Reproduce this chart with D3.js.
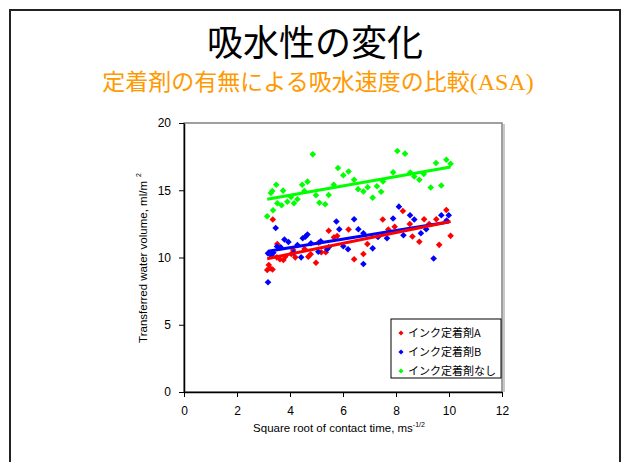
<!DOCTYPE html>
<html>
<head>
<meta charset="utf-8">
<script src="https://cdn.jsdelivr.net/npm/d3@7"></script>
<style>
  html, body { margin: 0; padding: 0; background: #fff; }
  svg { display: block; }
</style>
</head>
<body>
<svg id="chart" width="624" height="462"></svg>
<script>
// Ink fixer A (red)
const inkA_x = [3.35, 3.14, 3.25, 3.34, 3.20, 3.50, 3.52, 3.62, 3.75, 3.82, 4.05, 4.12, 4.20, 4.55, 4.69, 4.78, 4.98, 5.08, 5.18, 5.35, 5.46, 5.66, 5.78, 6.21, 6.42, 6.77, 6.92, 7.50, 7.71, 7.95, 8.26, 8.52, 8.62, 8.88, 9.06, 9.25, 9.52, 9.63, 9.90, 10.06];
const inkA_y = [12.83, 9.07, 9.20, 9.11, 9.44, 10.01, 11.00, 9.87, 9.81, 10.06, 10.26, 10.56, 10.01, 10.63, 10.06, 10.24, 9.61, 11.10, 10.39, 10.39, 11.99, 11.50, 11.60, 12.08, 9.87, 10.26, 11.00, 12.83, 12.08, 12.29, 13.46, 12.49, 11.56, 11.17, 12.84, 12.49, 12.84, 10.94, 13.53, 11.61];

// Ink fixer B (blue)
const inkB_x = [3.46, 3.17, 3.17, 3.31, 3.37, 3.51, 3.65, 3.79, 3.94, 4.14, 4.28, 4.42, 4.48, 4.58, 4.66, 4.79, 5.07, 5.16, 5.40, 5.46, 5.75, 5.86, 6.01, 6.19, 6.42, 6.58, 6.77, 6.77, 7.12, 7.32, 7.66, 7.89, 8.11, 8.28, 8.53, 8.69, 8.94, 9.14, 9.42, 9.71, 9.91, 9.99];
const inkB_y = [12.19, 8.16, 10.31, 10.11, 10.36, 10.82, 10.76, 11.34, 11.15, 10.36, 10.93, 10.01, 11.43, 11.55, 11.71, 11.06, 10.43, 11.20, 10.61, 10.76, 12.68, 12.10, 10.84, 10.61, 12.84, 12.10, 11.80, 9.52, 10.68, 11.52, 11.43, 12.90, 13.78, 11.65, 13.14, 12.83, 11.80, 12.10, 9.93, 13.14, 12.75, 13.14];

// No ink fixer (green)
const none_x = [3.14, 3.36, 3.28, 3.33, 3.48, 3.52, 3.68, 3.74, 3.90, 4.04, 4.15, 4.28, 4.46, 4.54, 4.66, 4.86, 4.98, 5.11, 5.33, 5.46, 5.65, 5.81, 6.01, 6.21, 6.42, 6.57, 6.77, 6.93, 7.12, 7.28, 7.44, 7.51, 7.89, 8.05, 8.34, 8.54, 8.69, 8.88, 9.05, 9.31, 9.51, 9.71, 9.90, 10.06];
const none_y = [13.06, 13.51, 14.80, 14.94, 15.41, 14.03, 13.88, 14.97, 14.15, 14.50, 14.03, 14.33, 15.41, 14.94, 15.64, 17.67, 14.63, 14.07, 13.96, 14.65, 15.41, 16.65, 16.11, 16.39, 15.78, 15.08, 14.91, 15.22, 14.45, 15.30, 14.89, 15.65, 16.33, 17.92, 17.72, 16.32, 16.02, 15.78, 16.21, 15.20, 17.03, 15.35, 17.27, 16.97];

const seriesNames = ["インク定着剤A", "インク定着剤B", "インク定着剤なし"];
const seriesColors = ["#ff0000", "#0000ff", "#00ff00"];

const xTicks = [0, 2, 4, 6, 8, 10, 12];
const yTicks = [0, 5, 10, 15, 20];

const titleText = "吸水性の変化";
const subtitleText = "定着剤の有無による吸水速度の比較";
const subtitleTail = "(ASA)";
const xLabel = "Square root of contact time, ms";
const xLabelSup = "-1/2";
const yLabel = "Transferred water volume, ml/m";
const yLabelSup = "2";

const series = [
  { name: seriesNames[0], color: seriesColors[0], x: inkA_x, y: inkA_y },
  { name: seriesNames[1], color: seriesColors[1], x: inkB_x, y: inkB_y },
  { name: seriesNames[2], color: seriesColors[2], x: none_x, y: none_y }
];

const svg = d3.select("#chart");
const W = 624, H = 462;
const sansCJK = "'Noto Sans CJK JP', 'Noto Sans', sans-serif";
const sans = "'Liberation Sans', Arial, sans-serif";

svg.append("rect").attr("width", W).attr("height", H).attr("fill", "#fff");

// slide frame
svg.append("rect")
  .attr("x", 10).attr("y", 10).attr("width", 610).attr("height", 470)
  .attr("fill", "none").attr("stroke", "#222").attr("stroke-width", 2);

// headings
svg.append("text")
  .attr("x", 315).attr("y", 56)
  .attr("text-anchor", "middle")
  .attr("font-family", sansCJK).attr("font-size", 36)
  .attr("fill", "#000")
  .text(titleText);

const sub = svg.append("text")
  .attr("x", 318).attr("y", 90)
  .attr("text-anchor", "middle")
  .attr("font-family", sansCJK).attr("font-size", 23)
  .attr("fill", "#ff9900");
sub.append("tspan").text(subtitleText);
sub.append("tspan").attr("font-family", "'Liberation Serif', 'Times New Roman', serif")
  .attr("font-size", 24).text(subtitleTail);

// plot area
const pL = 184, pR = 502, pT = 123, pB = 392;
const x = d3.scaleLinear().domain([0, 12]).range([pL, pR]);
const y = d3.scaleLinear().domain([0, 20]).range([pB, pT]);

// soft shadow on the right edge of the plot frame
svg.append("line")
  .attr("x1", pR + 2).attr("x2", pR + 2).attr("y1", pT + 1).attr("y2", pB)
  .attr("stroke", "#c8c8c8").attr("stroke-width", 2);

svg.append("rect")
  .attr("x", pL).attr("y", pT)
  .attr("width", pR - pL).attr("height", pB - pT)
  .attr("fill", "#fff").attr("stroke", "#808080").attr("stroke-width", 1.5);

const xAxis = svg.append("g")
  .attr("transform", `translate(0,${pB})`)
  .call(d3.axisBottom(x).tickValues(xTicks).tickSizeInner(5).tickSizeOuter(0).tickPadding(9));
const yAxis = svg.append("g")
  .attr("transform", `translate(${pL},0)`)
  .call(d3.axisLeft(y).tickValues(yTicks).tickSizeInner(5).tickSizeOuter(0).tickPadding(8));

[xAxis, yAxis].forEach(g => {
  g.select(".domain").attr("stroke", "#000").attr("stroke-width", 1.5);
  g.selectAll(".tick line").attr("stroke", "#000").attr("stroke-width", 1);
  g.selectAll(".tick text")
    .attr("font-family", sans).attr("font-size", 12).attr("fill", "#000");
});

// axis titles
const xt = svg.append("text")
  .attr("x", 339).attr("y", 432)
  .attr("text-anchor", "middle")
  .attr("font-family", sans).attr("font-size", 11.5).attr("fill", "#000");
xt.append("tspan").text(xLabel);
xt.append("tspan").attr("dy", -5).attr("font-size", 7).text(xLabelSup);

const yt = svg.append("text")
  .attr("transform", "translate(147,258) rotate(-90)")
  .attr("text-anchor", "middle")
  .attr("font-family", sans).attr("font-size", 11.5).attr("fill", "#000");
yt.append("tspan").text(yLabel);
yt.append("tspan").attr("dx", 4).attr("dy", -6).attr("font-size", 7).text(yLabelSup);

// markers
const diamond = r => `M0,${-r}L${r},0L0,${r}L${-r},0Z`;

series.forEach(s => {
  svg.append("g").selectAll("path")
    .data(s.x.map((v, i) => [v, s.y[i]]))
    .join("path")
    .attr("d", diamond(3.3))
    .attr("transform", d => `translate(${x(d[0])},${y(d[1])})`)
    .attr("fill", s.color);
});

// least-squares trend lines over each series' range
function linFit(xs, ys) {
  const n = xs.length;
  const mx = d3.mean(xs), my = d3.mean(ys);
  let sxy = 0, sxx = 0;
  for (let i = 0; i < n; i++) { sxy += (xs[i] - mx) * (ys[i] - my); sxx += (xs[i] - mx) ** 2; }
  const b = sxy / sxx;
  return { a: my - b * mx, b };
}

[series[1], series[0], series[2]].forEach(s => {
  const f = linFit(s.x, s.y);
  const [x0, x1] = d3.extent(s.x);
  svg.append("line")
    .attr("x1", x(x0)).attr("y1", y(f.a + f.b * x0))
    .attr("x2", x(x1)).attr("y2", y(f.a + f.b * x1))
    .attr("stroke", s.color).attr("stroke-width", 3);
});

// legend
const lg = svg.append("g").attr("transform", "translate(391,319)");
lg.append("rect").attr("width", 110).attr("height", 59)
  .attr("fill", "#fff").attr("stroke", "#000").attr("stroke-width", 1);
series.forEach((s, i) => {
  const row = lg.append("g").attr("transform", `translate(0,${14 + i * 19})`);
  row.append("path").attr("d", diamond(2.6)).attr("transform", "translate(10,0)").attr("fill", s.color);
  row.append("text").attr("x", 17).attr("y", 4)
    .attr("font-family", sansCJK).attr("font-size", 11).attr("fill", "#000")
    .text(s.name);
});
</script>
</body>
</html>
